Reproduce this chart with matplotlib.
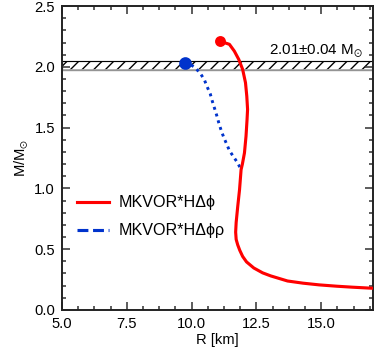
import matplotlib
matplotlib.use("Agg")
import matplotlib.pyplot as plt
from matplotlib.lines import Line2D
from matplotlib.ticker import MultipleLocator

# data
r_phi = [11.08, 11.46, 11.65, 11.82, 11.97, 12.08, 12.13, 12.16, 12.14, 12.10,
         12.04, 11.96, 11.91, 11.85, 11.78, 11.72, 11.70, 11.72, 11.78, 11.86,
         11.97, 12.12, 12.40, 12.74, 13.05, 13.70, 14.30, 14.92, 15.60, 16.20,
         16.91, 17.50]
m_phi = [2.212, 2.185, 2.129, 2.061, 1.979, 1.869, 1.758, 1.650, 1.566, 1.429,
         1.292, 1.200, 1.154, 0.989, 0.850, 0.720, 0.640, 0.580, 0.535, 0.490,
         0.440, 0.395, 0.345, 0.305, 0.280, 0.238, 0.220, 0.206, 0.195, 0.187,
         0.179, 0.174]

r_phirho = [9.73, 9.95, 10.14, 10.35, 10.50, 10.60, 10.72, 10.80, 10.88, 10.97,
            11.05, 11.14, 11.24, 11.35, 11.46, 11.63, 11.78, 11.91]
m_phirho = [2.034, 2.020, 1.993, 1.943, 1.890, 1.836, 1.778, 1.717, 1.663, 1.600,
            1.539, 1.478, 1.420, 1.366, 1.311, 1.256, 1.209, 1.154]

band_lo, band_hi = 1.97, 2.05
labels = ["MKVOR*HΔϕ", "MKVOR*HΔϕρ"]

DPI = 140
plt.rcParams['font.family'] = ['Liberation Sans', 'DejaVu Sans']
plt.rcParams['mathtext.fontset'] = 'dejavusans'
plt.rcParams['mathtext.default'] = 'regular'
plt.rcParams['hatch.linewidth'] = 0.7

fig = plt.figure(figsize=(387 / DPI, 355 / DPI), dpi=DPI)
ax = fig.add_axes([0.160, 0.127, 0.804, 0.856])

red = '#ff0000'
blue = '#0033cc'

ax.fill_between([5, 17], band_lo, band_hi, facecolor='white', edgecolor='black',
                hatch='////', linewidth=0.6, zorder=1)
ax.axhline(band_lo, color='#aaaaaa', lw=0.9, zorder=1.5)

ax.plot(r_phirho, m_phirho, color=blue, lw=1.5, dashes=(1, 1.4), zorder=2)
ax.plot(r_phirho[0], m_phirho[0], 'o', color=blue, ms=5.5, zorder=4)
ax.plot(r_phi, m_phi, color=red, lw=1.6, zorder=3)
ax.plot(r_phi[0], m_phi[0], 'o', color=red, ms=4.6, zorder=4)

ax.text(16.6, 2.10, '2.01±0.04 M$_{\\odot}$', ha='right', va='baseline', fontsize=7.8)

handles = [Line2D([], [], color=red, lw=1.6),
           Line2D([], [], color=blue, lw=1.6, dashes=(3.5, 1.5))]
ax.legend(handles, labels, loc='upper left', bbox_to_anchor=(0.048, 0.377),
          frameon=False, fontsize=8.3, handlelength=2.0, handletextpad=0.6,
          labelspacing=0.8, borderpad=0, borderaxespad=0)

ax.set_xlim(5, 17)
ax.set_ylim(0, 2.5)
ax.xaxis.set_major_locator(MultipleLocator(2.5))
ax.xaxis.set_minor_locator(MultipleLocator(0.625))
ax.yaxis.set_major_locator(MultipleLocator(0.5))
ax.yaxis.set_minor_locator(MultipleLocator(0.1))
ax.tick_params(which='both', direction='in', top=True, right=True,
               labelsize=7.6, color='#333333', width=0.8)
ax.tick_params(which='major', length=4)
ax.tick_params(which='minor', length=2.3)
for s in ax.spines.values():
    s.set_linewidth(1.0)
    s.set_color('#222222')

ax.set_xlabel('R [km]', fontsize=7.6, labelpad=1)
ax.set_ylabel('M/M$_{\\odot}$', fontsize=7.6, labelpad=1.5)

fig.savefig("out.png", dpi=DPI)
